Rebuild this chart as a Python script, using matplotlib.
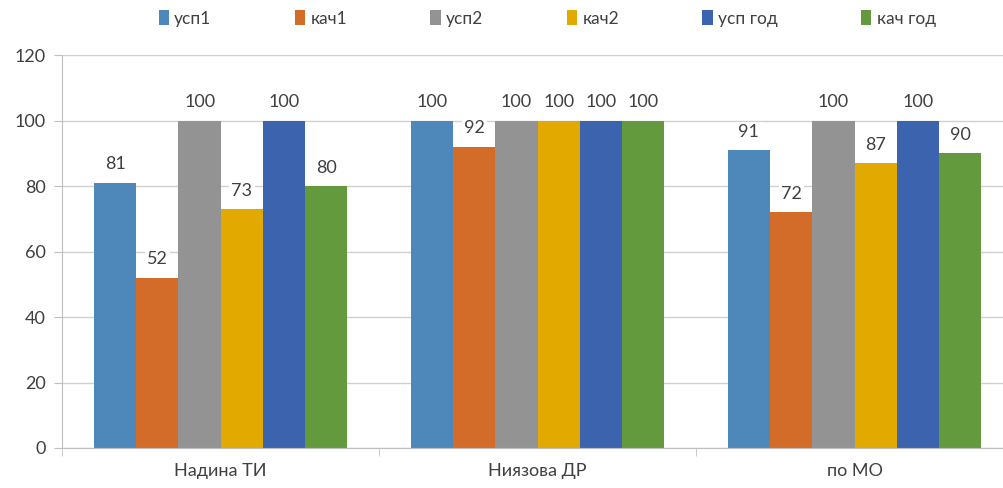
import matplotlib.pyplot as plt
import numpy as np

# Данные
categorias = ["Надина ТИ", "Ниязова ДР", "по МО"]
series = ["усп1", "кач1", "усп2", "кач2", "усп год", "кач год"]
usp1 = [81, 100, 91]
kach1 = [52, 92, 72]
usp2 = [100, 100, 100]
kach2 = [73, 100, 87]
usp_god = [100, 100, 100]
kach_god = [80, 100, 90]
valores = [usp1, kach1, usp2, kach2, usp_god, kach_god]
colores = ["#4E88BB", "#D36B29", "#939393", "#E2A900", "#3C63AD", "#629A3D"]

plt.rcParams["font.family"] = ["Lato", "DejaVu Sans"]

fig = plt.figure(figsize=(10.04, 4.88), dpi=100)
# el area del grafico se sale un poco por la derecha, como en el original
ax = fig.add_axes([0.062, 0.082, 0.947, 0.805])

x = np.arange(len(categorias)) + 0.5
grupo = 0.8
ancho = grupo / len(series)

barras = []
for i, (nombre, vals) in enumerate(zip(series, valores)):
    pos = x - grupo / 2 + ancho * (i + 0.5)
    b = ax.bar(pos, vals, width=ancho, color=colores[i], label=nombre, zorder=2)
    barras.append(b)
    for px, v in zip(pos, vals):
        ax.text(px, v + 5.6, f"{v}", ha="center", va="center", fontsize=13,
                color="#404040", zorder=3,
                bbox=dict(facecolor="white", edgecolor="none", pad=1.5))

# Ejes
ax.set_xlim(0, 3)
ax.set_ylim(0, 120)
ax.set_yticks(np.arange(0, 121, 20))
ax.set_xticks(x)
ax.set_xticklabels(categorias)
ax.set_xticks([0, 1, 2, 3], minor=True)
ax.tick_params(axis="x", which="major", length=0, pad=11, labelsize=13, labelcolor="#404040")
ax.tick_params(axis="x", which="minor", length=6, color="#BFBFBF", direction="out")
ax.tick_params(axis="y", length=6, color="#BFBFBF", labelsize=13, labelcolor="#404040", pad=6)
ax.grid(axis="y", color="#D0D0D0", linewidth=1, zorder=0)
ax.set_axisbelow(True)
for lado in ["top", "right"]:
    ax.spines[lado].set_visible(False)
for lado in ["left", "bottom"]:
    ax.spines[lado].set_color("#BFBFBF")

fig.legend(handles=barras, labels=series, loc="center", ncol=6,
           bbox_to_anchor=(0.545, 0.962), frameon=False, fontsize=12.5,
           handlelength=0.6, handleheight=0.9, handletextpad=0.3,
           columnspacing=4.8, labelcolor="#404040")

fig.savefig("out.png", dpi=100)
